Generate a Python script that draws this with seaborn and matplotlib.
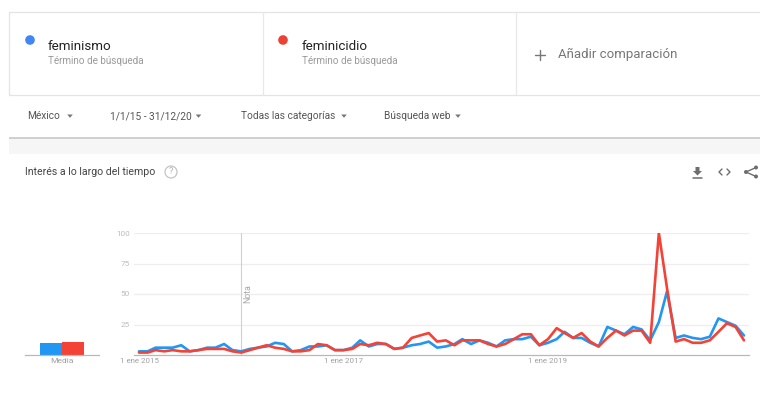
import matplotlib
matplotlib.use("Agg")
import matplotlib.pyplot as plt
import pandas as pd
import seaborn as sns
from matplotlib.patches import Circle, Polygon, Rectangle

# ==========================================================
# Data (one value per month)
# ==========================================================

terms = ["feminismo", "feminicidio"]

feminismo = [
    3, 3, 6, 6, 6, 8, 3, 4, 6, 6, 9, 4,
    3, 5, 6, 7, 10, 9, 3, 4, 7, 7, 8, 4,
    4, 6, 12, 7, 9, 9, 5, 6, 8, 9, 11, 6,
    7, 9, 13, 9, 12, 10, 7, 12, 13, 13, 15, 8,
    10, 13, 19, 14, 14, 10, 7, 23, 20, 17, 23, 21,
    12, 27, 52, 14, 16, 14, 13, 15, 30, 27, 24, 16,
]
feminicidio = [
    2, 2, 4, 3, 4, 3, 3, 4, 5, 5, 5, 3,
    2, 4, 6, 8, 6, 5, 3, 3, 4, 9, 8, 4,
    4, 5, 9, 8, 10, 9, 5, 6, 14, 16, 18, 11,
    12, 8, 12, 12, 12, 9, 7, 9, 13, 17, 17, 8,
    13, 22, 18, 14, 18, 11, 7, 14, 20, 16, 20, 20,
    10, 100, 55, 11, 13, 10, 10, 12, 19, 26, 23, 12,
]
averages = [10, 11]

y_ticks = [25, 50, 75, 100]
year_ticks = ["2015-01-01", "2017-01-01", "2019-01-01"]
year_labels = ["1 ene 2015", "1 ene 2017", "1 ene 2019"]
note_date = "2016-01-01"

filters = [
    ("México", 27, 70),
    ("1/1/15 - 31/12/20", 110, 198.5),
    ("Todas las categorías", 241, 344),
    ("Búsqueda web", 384, 458),
]

BLUE = "#2196f3"
RED = "#f44336"
W, H = 760, 405


def px_axes(fig, left, top, right, bottom):
    return fig.add_axes([left / W, 1 - bottom / H, (right - left) / W, (bottom - top) / H])


sns.set_style("white")
plt.rcParams["font.family"] = ["Roboto", "DejaVu Sans"]

fig = plt.figure(figsize=(7.6, 4.05), dpi=100)

# ==========================================================
# Page chrome, in pixel coordinates
# ==========================================================

ui = px_axes(fig, 0, 0, W, H)
ui.set_xlim(0, W)
ui.set_ylim(H, 0)
ui.axis("off")

ui.plot([W, 9, 9, W], [11.5, 11.5, 94.5, 94.5], color="#e4e4e4", lw=0.9)
ui.plot([263, 263], [11.5, 94.5], color="#e8e8e8", lw=0.9)
ui.plot([516, 516], [11.5, 94.5], color="#e8e8e8", lw=0.9)

ui.add_patch(Circle((30, 40), 4.8, color="#4285f4", lw=0))
ui.add_patch(Circle((283, 40), 4.8, color="#ea4335", lw=0))

for name, x in zip(terms, [48, 302]):
    ui.text(x, 46, name, fontsize=9.6, color="#222222", va="center")
    ui.text(x, 61, "Término de búsqueda", fontsize=7.1, color="#9a9a9a", va="center")

ui.plot([535, 545], [54.5, 54.5], color="#777777", lw=1)
ui.plot([540, 540], [49.5, 59.5], color="#777777", lw=1)
ui.text(558, 54.5, "Añadir comparación", fontsize=9.5, color="#777777", va="center")

for label, x, arrow_x in filters:
    ui.text(x, 116, label, fontsize=7.25, color="#555555", va="center")
    ui.add_patch(Polygon(
        [(arrow_x - 2.8, 114.5), (arrow_x + 2.8, 114.5), (arrow_x, 117.8)],
        color="#777777", lw=0,
    ))

ui.add_patch(Rectangle((9, 137), W - 9, 2, color="#d0d0d0", lw=0))
ui.add_patch(Rectangle((9, 139), W - 9, 15, color="#f6f6f6", lw=0))

ui.text(25, 172, "Interés a lo largo del tiempo", fontsize=7.55, color="#444444", va="center")
ui.add_patch(Circle((171, 172), 6, fill=False, ec="#c4c4c4", lw=0.9))
ui.text(171, 172, "?", fontsize=6.5, color="#b0b0b0", ha="center", va="center")

# download, embed and share icons
ui.add_patch(Polygon(
    [(695.5, 167), (699.5, 167), (699.5, 171), (702, 171), (697.5, 175.5), (693, 171), (695.5, 171)],
    color="#6e6e6e", lw=0,
))
ui.plot([693, 702], [177.5, 177.5], color="#6e6e6e", lw=1.1)
ui.plot([722, 719, 722], [169, 172, 175], color="#6e6e6e", lw=1)
ui.plot([727, 730, 727], [169, 172, 175], color="#6e6e6e", lw=1)
ui.plot([756, 746, 756], [167.5, 172, 176.5], color="#6e6e6e", lw=1)
for cx, cy in [(756, 167.5), (746, 172), (756, 176.5)]:
    ui.add_patch(Circle((cx, cy), 2, color="#6e6e6e", lw=0))

# ==========================================================
# Line chart
# ==========================================================

dates = pd.date_range("2015-01-01", periods=len(feminismo), freq="MS")
trend = pd.DataFrame({"fecha": dates, "feminismo": feminismo, "feminicidio": feminicidio})

ax = px_axes(fig, 134, 233, 749, 355)
ax.patch.set_alpha(0)

sns.lineplot(data=trend, x="fecha", y="feminismo", color=BLUE, lw=1.9, ax=ax, zorder=3)
sns.lineplot(data=trend, x="fecha", y="feminicidio", color=RED, lw=1.9, ax=ax, zorder=4)

start = pd.Timestamp("2015-01-01")
days_per_px = 365.25 * 4 / 409
ax.set_xlim(start - pd.Timedelta(days=5 * days_per_px), start + pd.Timedelta(days=610 * days_per_px))
ax.set_ylim(0, 100)
ax.set_xlabel("")
ax.set_ylabel("")

ax.set_yticks(y_ticks)
ax.set_xticks(pd.to_datetime(year_ticks))
ax.set_xticklabels(year_labels)
ax.tick_params(axis="y", length=0, pad=3, labelsize=5.9, labelcolor="#bcbcbc")
ax.tick_params(axis="x", length=0, pad=2, labelsize=5.7, labelcolor="#a0a0a0")
ax.grid(axis="y", color="#eeeeee", lw=0.9)
ax.set_axisbelow(True)

sns.despine(ax=ax, left=True, top=True, right=True)
ax.spines["bottom"].set_color("#b8b8b8")
ax.spines["bottom"].set_linewidth(0.9)

note = pd.Timestamp(note_date)
ax.axvline(note, color="#d0d0d0", lw=0.8, zorder=1)
ax.text(note + pd.Timedelta(days=22), 42.5, "Nota", rotation=90, fontsize=6.3, color="#a8a8a8", ha="center", va="bottom", clip_on=False)

# ==========================================================
# Average bars
# ==========================================================

bar_ax = px_axes(fig, 25, 233, 99, 355)
bar_ax.patch.set_alpha(0)

sns.barplot(x=terms, y=averages, hue=terms, palette=[BLUE, RED], width=1, saturation=1, linewidth=0, legend=False, ax=bar_ax)
bar_ax.set_xlim(-1.18, 2.18)
bar_ax.set_ylim(0, 100)
bar_ax.set_yticks([])
bar_ax.set_xticks([0.5])
bar_ax.set_xticklabels(["Media"])
bar_ax.tick_params(axis="x", length=0, pad=2, labelsize=6.1, labelcolor="#a0a0a0")
bar_ax.set_xlabel("")
bar_ax.set_ylabel("")

sns.despine(ax=bar_ax, left=True, top=True, right=True)
bar_ax.spines["bottom"].set_color("#b8b8b8")
bar_ax.spines["bottom"].set_linewidth(0.9)

fig.savefig("out.png", dpi=100)
plt.close(fig)
